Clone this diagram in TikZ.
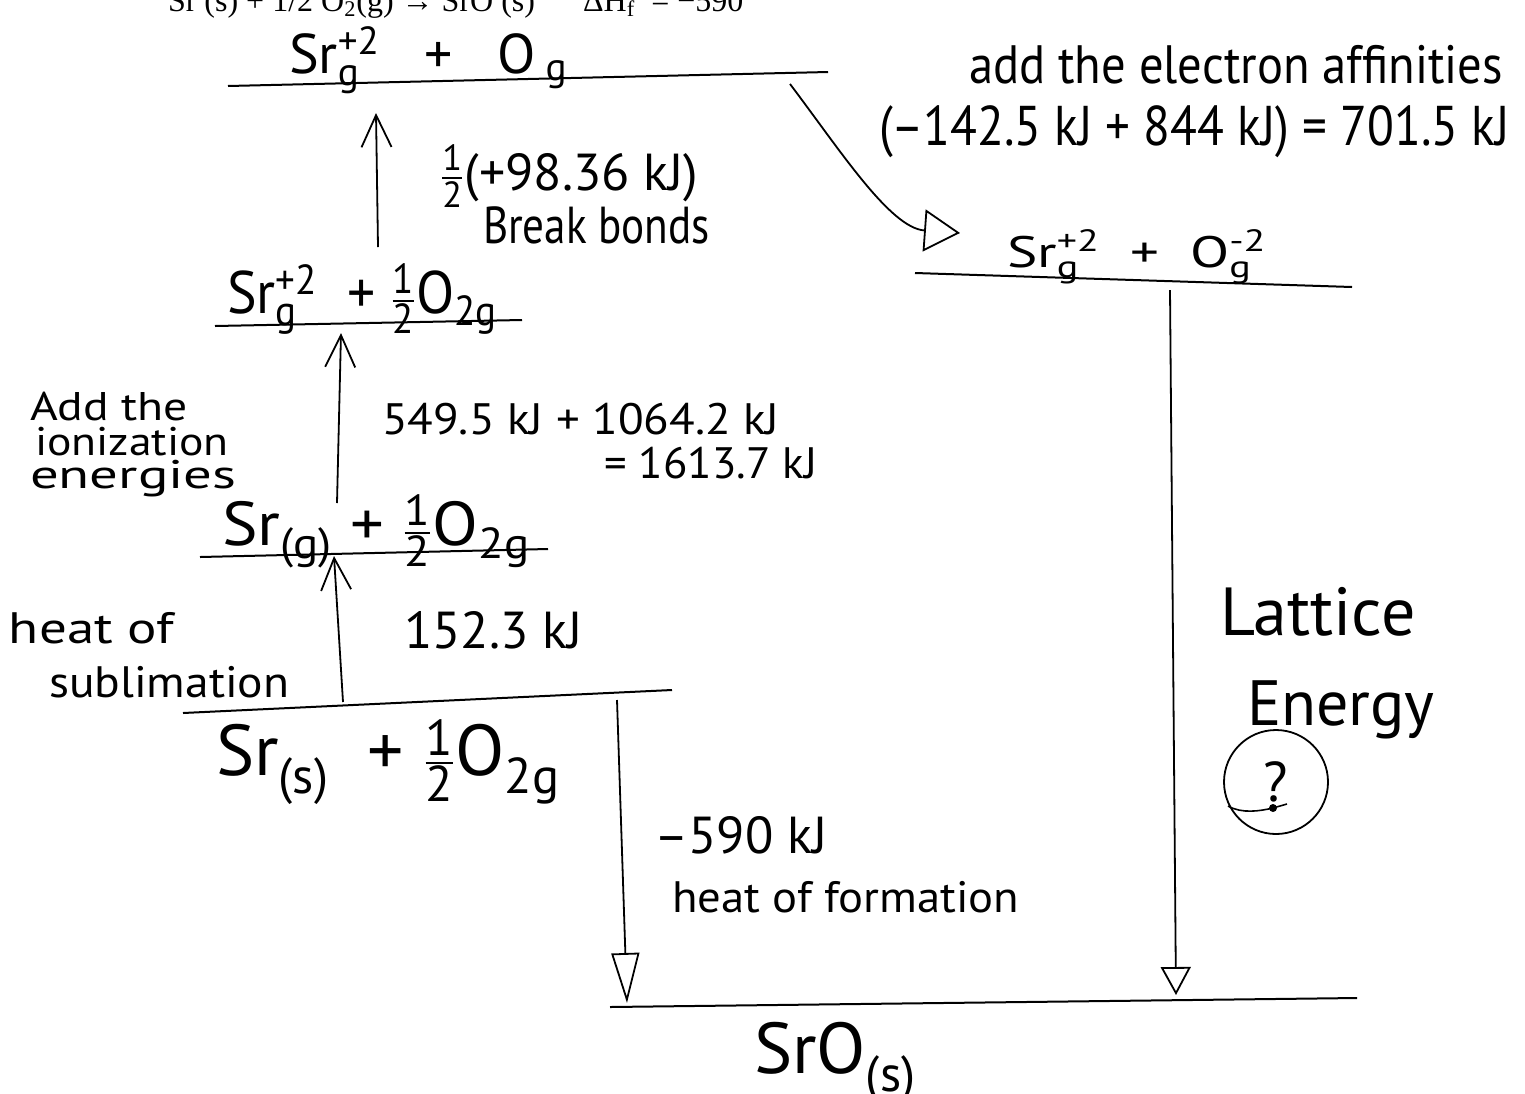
\documentclass[tikz,border=0pt]{standalone}
\usepackage{amsmath}
\usepackage{graphicx}
\usepackage{fontspec}
\newfontfamily\hand{PT Sans}
\newfontfamily\typed{Liberation Serif}
\newcommand{\hx}[2]{\scalebox{#1}[1]{#2}}
\usetikzlibrary{arrows.meta}
\begin{document}
\begin{tikzpicture}[x=0.5pt,y=-0.5pt,
  every node/.style={inner sep=0pt,outer sep=0pt},
  lvl/.style={line width=1pt},
  upar/.style={line width=0.9pt,-{Straight Barb[length=16pt,width=15pt]}},
  dnar/.style={line width=0.9pt,-{Triangle[open,length=25pt,width=14pt]}},
  dnarb/.style={line width=0.9pt,-{Triangle[open,length=14pt,width=15pt]}},
  cvar/.style={line width=0.9pt,-{Triangle[open,length=18pt,width=21pt]}},
  hw/.style={anchor=base west,font={\hand\fontsize{#1}{#1}\selectfont}},
]
\fill[white] (0,0) rectangle (1525,1093);
\clip (0,0) rectangle (1525,1093);

% typed equation, cut off at top
\node[anchor=base west,font={\typed\fontsize{16}{16}\selectfont}] (eq) at (168,11)
  {Sr (s) + 1/2 O\textsubscript{2}(g) → SrO (s)\quad\ \ ΔH\textsubscript{f}\ \ = −590};

% energy levels
\coordinate (l1a) at (228,86);  \coordinate (l1b) at (828,72);
\coordinate (l2a) at (215,326); \coordinate (l2b) at (522,320);
\coordinate (l3a) at (200,557); \coordinate (l3b) at (548,549);
\coordinate (l4a) at (183,713); \coordinate (l4b) at (672,690);
\coordinate (l5a) at (915,273); \coordinate (l5b) at (1352,287);
\coordinate (l6a) at (610,1007); \coordinate (l6b) at (1357,998);
\draw[lvl] (l1a) -- (l1b);
\draw[lvl] (l2a) -- (l2b);
\draw[lvl] (l3a) -- (l3b);
\draw[lvl] (l4a) -- (l4b);
\draw[lvl] (l5a) -- (l5b);
\draw[lvl] (l6a) -- (l6b);

% level labels
\node[hw=28] (n1) at (289,73) {Sr$^{\text{+2}}_{\text{g}}$\ \ \ +\ \ \ O\,$_{\text{g}}$};
\node[hw=30] (n2) at (227,313) {\hx{0.93}{Sr$^{\text{+2}}_{\text{g}}$\ \ + $\tfrac{\text{1}}{\text{2}}$O$_{\text{2g}}$}};
\node[hw=31] (n3) at (222,545) {\hx{1.08}{Sr$_{\text{(g)}}$\ + $\tfrac{\text{1}}{\text{2}}$O$_{\text{2g}}$}};
\node[hw=36] (n4) at (216,775) {Sr$_{\text{(s)}}$\ \ + $\tfrac{\text{1}}{\text{2}}$O$_{\text{2g}}$};
\node[hw=22] (n5) at (1007,267) {\hx{1.3}{Sr$^{\text{+2}}_{\text{g}}$\ \ +\ \ O$^{\text{-2}}_{\text{g}}$}};
\node[hw=36] (n6) at (754,1073) {SrO$_{\text{(s)}}$};

% arrows
\coordinate (a1s) at (343,702); \coordinate (a1e) at (334,556);
\coordinate (a2s) at (337,503); \coordinate (a2e) at (341,333);
\coordinate (a3s) at (378,247); \coordinate (a3e) at (376,113);
\coordinate (c1) at (790,84);   \coordinate (c2) at (960,233);
\coordinate (a5s) at (617,700); \coordinate (a5e) at (627,1003);
\coordinate (a6s) at (1170,290); \coordinate (a6e) at (1176,995);
\draw[upar] (a1s) -- (a1e);
\draw[upar] (a2s) -- (a2e);
\draw[upar] (a3s) -- (a3e);
\draw[cvar] (c1) .. controls (840,150) and (890,228) .. (c2);
\draw[dnar] (a5s) -- (a5e);
\draw[dnarb] (a6s) -- (a6e);

% annotations
\node[hw=26] (bb1) at (440,190) {$\tfrac{\text{1}}{\text{2}}$(+98.36 kJ)};
\node[hw=26] (bb2) at (483,243) {\hx{0.83}{Break bonds}};
\node[hw=27] (ea1) at (969,83) {\hx{0.9}{add the electron affinities}};
\node[hw=28] (ea2) at (879,145) {\hx{0.88}{(–142.5 kJ + 844 kJ) = 701.5 kJ}};
\node[hw=20] (ie1) at (30,420) {\hx{1.19}{Add the}};
\node[hw=20] (ie2) at (35,455) {\hx{1.14}{ionization}};
\node[hw=20] (ie3) at (30,488) {\hx{1.42}{energies}};
\node[hw=22] (iv1) at (382,434) {\hx{1.07}{549.5 kJ + 1064.2 kJ}};
\node[hw=22] (iv2) at (604,478) {\hx{1.02}{= 1613.7 kJ}};
\node[hw=22] (hs1) at (9,643) {\hx{1.25}{heat of}};
\node[hw=22] (hs2) at (49,697) {\hx{1.08}{sublimation}};
\node[hw=26] (sv) at (404,648) {152.3 kJ};
\node[hw=26] (hf1) at (654,853) {–590 kJ};
\node[hw=22] (hf2) at (672,912) {\hx{1.06}{heat of formation}};
\node[hw=34] (le1) at (1220,635) {Lattice};
\node[hw=32] (le2) at (1247,725) {Energy};
\node[draw,circle,line width=0.9pt,minimum size=52pt,font={\hand\fontsize{28}{28}\selectfont}] (q) at (1276,782) {?};
\fill (1273,808) circle[radius=2pt];
\draw[line width=0.8pt] (1228,806) .. controls (1242,814) and (1260,811) .. (1273,808) -- (1287,804);
\end{tikzpicture}
\end{document}
